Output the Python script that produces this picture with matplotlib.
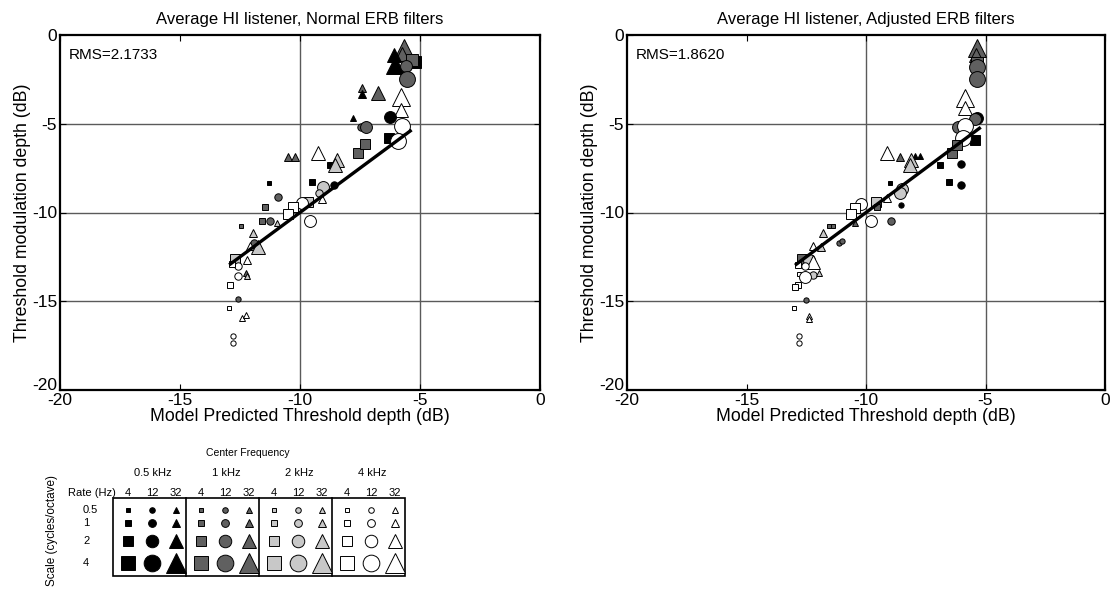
import matplotlib
matplotlib.use("Agg")
import matplotlib.pyplot as plt
import matplotlib.transforms as mtransforms
from matplotlib.patches import Rectangle

plt.rcParams['font.family'] = ['Liberation Sans', 'DejaVu Sans']
plt.rcParams['axes.unicode_minus'] = False

# ---------------- data ----------------
freq_labels = ["0.5 kHz", "1 kHz", "2 kHz", "4 kHz"]
rate_labels = ["4", "12", "32"]
scale_labels = ["0.5", "1", "2", "4"]
freq_colors = ["#000000", "#606060", "#c8c8c8", "#ffffff"]
rate_markers = ["s", "o", "^"]

titles = ["Average HI listener, Normal ERB filters",
          "Average HI listener, Adjusted ERB filters"]
rms_values = ["2.1733", "1.8620"]

# left panel points: x (model), y (threshold), freq idx, rate idx, scale idx
left_x = [-5.67, -5.75, -6.1, -6.05, -5.2, -5.35, -5.6, -5.55, -7.4, -7.4, -6.75, -5.8, -5.8,
          -6.25, -5.75, -7.8, -7.45, -7.25, -6.3, -5.9, -7.6, -7.3, -10.5, -10.2, -9.25, -8.75,
          -8.45, -8.55, -11.3, -9.5, -8.6, -9.05, -9.2, -10.9, -9.1, -9.65, -9.9, -10.3, -11.45,
          -10.5, -9.6, -11.6, -11.25, -10.95, -12.45, -11.95, -11.9, -12.1, -11.75, -12.7, -12.2,
          -12.6, -12.85, -12.25, -12.2, -12.6, -12.9, -12.6, -12.95, -12.4, -12.25, -12.8, -12.8]
left_y = [-0.75, -1.05, -1.1, -1.7, -1.5, -1.4, -1.75, -2.5, -3.0, -3.35, -3.25, -3.5, -4.2,
          -4.6, -5.1, -4.7, -5.2, -5.2, -5.8, -5.95, -6.65, -6.15, -6.9, -6.9, -6.65, -7.3,
          -7.05, -7.3, -8.35, -8.3, -8.45, -8.55, -8.9, -9.1, -9.25, -9.4, -9.45, -9.7, -9.7,
          -10.1, -10.5, -10.5, -10.5, -10.6, -10.75, -11.15, -11.7, -11.9, -11.95, -12.6, -12.7,
          -13.0, -12.9, -13.4, -13.55, -13.6, -14.1, -14.9, -15.4, -15.95, -15.8, -16.95, -17.35]
left_f = [1, 1, 0, 0, 0, 1, 1, 1, 1, 0, 1, 3, 3, 0, 3, 0, 1, 1, 0, 3, 1, 1, 1, 1, 3, 0, 2, 2,
          0, 0, 0, 2, 2, 1, 3, 2, 3, 3, 1, 3, 3, 1, 1, 2, 1, 2, 1, 3, 2, 2, 3, 3, 3, 1, 2, 3, 3,
          1, 3, 3, 3, 3, 3]
left_r = [2, 2, 2, 2, 0, 0, 1, 1, 2, 2, 2, 2, 2, 1, 1, 2, 1, 1, 0, 1, 0, 0, 2, 2, 2, 0, 2, 2,
          0, 0, 1, 1, 1, 1, 2, 0, 1, 0, 0, 0, 1, 0, 1, 2, 0, 2, 1, 2, 2, 0, 2, 1, 0, 2, 2, 1, 0,
          1, 0, 2, 2, 1, 1]
left_s = [3, 2, 2, 3, 3, 3, 2, 3, 1, 1, 2, 3, 2, 2, 3, 0, 1, 2, 2, 3, 2, 2, 1, 1, 2, 1, 2, 2,
          0, 1, 1, 2, 1, 1, 1, 2, 2, 2, 1, 2, 2, 1, 1, 0, 0, 1, 1, 1, 2, 2, 1, 1, 1, 0, 0, 1, 1,
          0, 0, 0, 0, 0, 0]

right_x = [-5.37, -5.4, -5.37, -5.35, -5.35, -5.86, -5.86, -5.86, -5.37, -5.45, -6.14, -5.86,
           -5.44, -5.93, -6.41, -6.2, -6.9, -6.04, -6.53, -6.02, -9.13, -8.58, -7.95, -7.74,
           -8.1, -8.16, -9.0, -8.5, -8.58, -8.55, -9.13, -9.58, -9.53, -10.2, -10.46, -10.63,
           -9.79, -8.97, -10.46, -11.53, -11.37, -11.79, -11.13, -10.99, -12.23, -11.9, -12.69,
           -12.37, -12.23, -12.83, -12.55, -12.79, -12.2, -11.95, -12.55, -12.83, -12.97, -12.51,
           -13.01, -12.37, -12.37, -12.79, -12.82]
right_y = [-0.75, -1.1, -1.6, -1.8, -2.5, -3.3, -3.55, -4.1, -4.65, -4.75, -5.2, -5.1, -5.9,
           -5.8, -6.67, -6.2, -7.3, -7.27, -8.3, -8.45, -6.63, -6.85, -6.82, -6.82, -7.05, -7.3,
           -8.35, -8.7, -8.9, -9.6, -9.2, -9.4, -9.67, -9.5, -9.77, -10.1, -10.46, -10.46,
           -10.57, -10.76, -10.76, -11.14, -11.7, -11.6, -11.89, -11.96, -12.64, -12.68, -12.77,
           -12.96, -13.0, -13.48, -13.5, -13.4, -13.65, -14.08, -14.18, -14.93, -15.36, -15.83,
           -16.0, -16.96, -17.33]
right_f = [1, 1, 1, 1, 1, 3, 3, 3, 0, 1, 1, 3, 0, 3, 1, 1, 0, 0, 0, 0, 3, 1, 0, 0, 2, 2, 0, 2,
           2, 0, 3, 2, 1, 3, 3, 3, 3, 1, 1, 1, 1, 2, 1, 1, 3, 2, 1, 2, 3, 3, 3, 3, 2, 2, 3, 3, 3,
           1, 3, 3, 3, 3, 3]
right_r = [2, 2, 0, 1, 1, 2, 2, 2, 1, 1, 1, 1, 0, 1, 0, 0, 0, 1, 0, 1, 2, 2, 2, 2, 2, 2, 0, 1,
           1, 1, 2, 0, 0, 1, 0, 0, 1, 1, 2, 0, 0, 2, 1, 1, 2, 2, 0, 1, 2, 0, 1, 0, 1, 2, 1, 0, 0,
           1, 0, 2, 2, 1, 1]
right_s = [3, 2, 3, 3, 3, 1, 3, 2, 2, 2, 2, 3, 2, 3, 2, 2, 1, 1, 1, 1, 2, 1, 0, 0, 2, 2, 0, 2,
           2, 0, 1, 2, 1, 2, 2, 2, 2, 1, 0, 0, 0, 1, 0, 0, 1, 1, 2, 2, 2, 1, 1, 0, 1, 0, 2, 1, 1,
           0, 0, 0, 0, 0, 0]

# y = x reference line over the predicted range
fit_left_x = [-12.95, -5.35]
fit_right_x = [-12.97, -5.2]

panels = [(left_x, left_y, left_f, left_r, left_s, fit_left_x),
          (right_x, right_y, right_f, right_r, right_s, fit_right_x)]

# ---------------- styling ----------------
scale_ms = [4.0, 5.6, 9.0, 12.0]           # circle diameter in points
shape_mult = {"s": 0.82, "o": 1.0, "^": 1.15}

fig = plt.figure(figsize=(11.12, 5.90), dpi=100)
axes_rects = [[60/1112, 1-390/590, 480/1112, 355/590],
              [627/1112, 1-390/590, 478/1112, 355/590]]

for i, (xs, ys, fs, rs, ss, fx) in enumerate(panels):
    ax = fig.add_axes(axes_rects[i])
    ax.set_xlim(-20, 0)
    ax.set_ylim(-20, 0)
    ax.set_xticks([-20, -15, -10, -5, 0])
    ax.set_yticks([-20, -15, -10, -5, 0])
    for yv in [-15, -10, -5]:
        ax.axhline(yv, color="#5a5a5a", lw=1.0, zorder=0)
    for xv in [-10, -5]:
        ax.axvline(xv, color="#5a5a5a", lw=1.0, zorder=0)
    for x, y, f, r, s in zip(xs, ys, fs, rs, ss):
        m = rate_markers[r]
        ax.plot(x, y, marker=m, ms=scale_ms[s]*0.95*shape_mult[m], mfc=freq_colors[f],
                mec="black", mew=0.7, ls="none", zorder=3)
    ax.plot(fx, fx, color="black", lw=2.4, zorder=4, solid_capstyle="butt")
    ax.tick_params(axis="both", direction="in", length=4, top=True, right=True,
                   labelsize=12.5, colors="black", pad=2)
    for sp in ax.spines.values():
        sp.set_linewidth(1.6)
        sp.set_color("black")
    ax.set_title(titles[i], fontsize=12, pad=8)
    ax.set_xlabel("Model Predicted Threshold depth (dB)", fontsize=12.8, labelpad=0)
    ax.set_ylabel("Threshold modulation depth (dB)", fontsize=12.8, labelpad=1)
    ax.text(0.019, 0.945, "RMS=" + rms_values[i], transform=ax.transAxes,
            fontsize=11, ha="left", va="center")
    # lift the lowest y tick label slightly so it clears the x "-20" label
    lowest = ax.get_yticklabels()[0]
    lowest.set_transform(lowest.get_transform() +
                         mtransforms.ScaledTranslation(0, 4/72, fig.dpi_scale_trans))

# ---------------- key table (pixel coordinates) ----------------
lg = fig.add_axes([0, 0, 1, 1])
lg.set_xlim(0, 1112)
lg.set_ylim(590, 0)
lg.axis("off")
box_left, group_w, box_top, box_bot = 113, 73, 498, 576
col0, col_dx = 128, 24
row_y = [510, 523, 541, 563]
lg.add_patch(Rectangle((box_left, box_top), 4*group_w, box_bot-box_top, fill=False,
                       ec="black", lw=1.2))
for g in range(1, 4):
    lg.plot([box_left+g*group_w]*2, [box_top, box_bot], color="black", lw=1.2)
lg.text(248, 453, "Center Frequency", fontsize=7.5, ha="center", va="center")
for g, fl in enumerate(freq_labels):
    lg.text(153 + g*group_w, 473, fl, fontsize=8, ha="center", va="center")
    for r, rl in enumerate(rate_labels):
        cx = col0 + g*group_w + r*col_dx
        lg.text(cx, 493, rl, fontsize=8, ha="center", va="center")
        m = rate_markers[r]
        for s in range(4):
            lg.plot(cx, row_y[s], marker=m, ms=scale_ms[s]*shape_mult[m],
                    mfc=freq_colors[g], mec="black", mew=0.7, ls="none")
lg.text(68, 493, "Rate (Hz)", fontsize=8, ha="left", va="center")
for s, sl in enumerate(scale_labels):
    lg.text(83, row_y[s], sl, fontsize=8, ha="left", va="center")
lg.text(52, 530, "Scale (cycles/octave)", fontsize=8.5, rotation=90, ha="center", va="center")

fig.savefig("out.png", dpi=100)
